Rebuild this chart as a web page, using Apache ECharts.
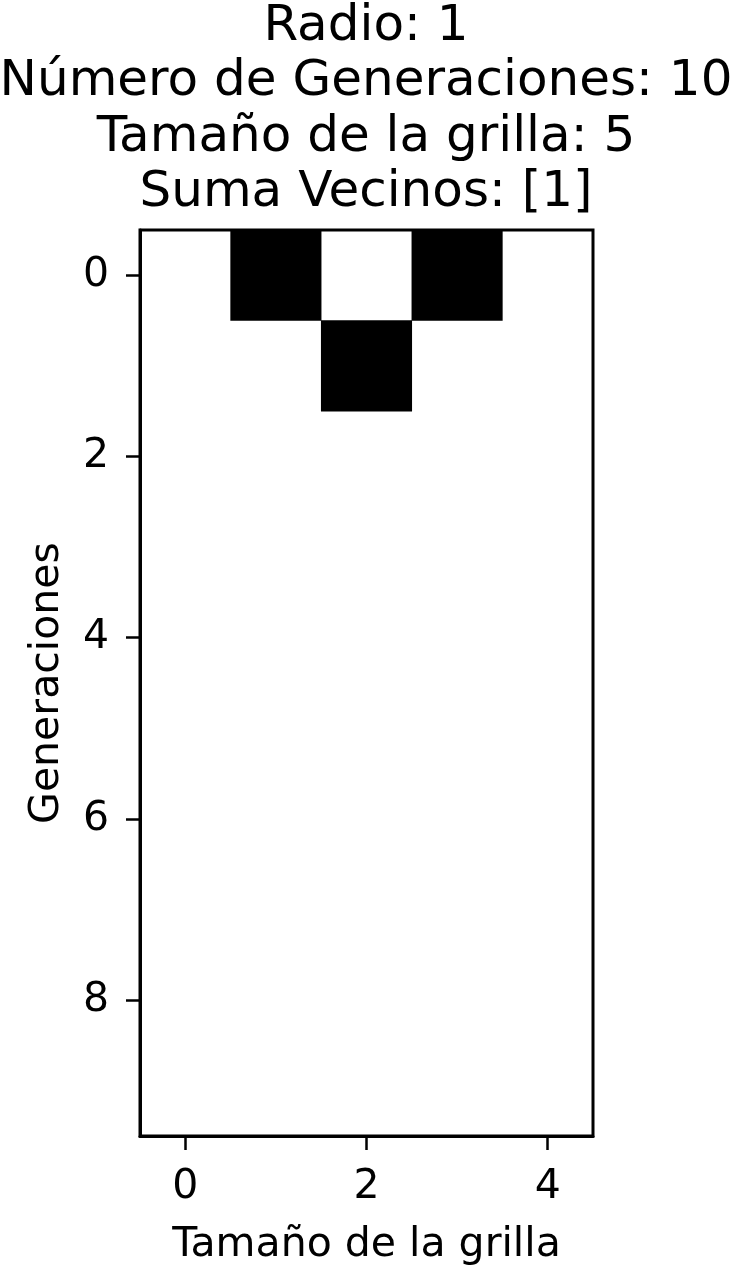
<!DOCTYPE html>
<html>
<head>
<meta charset="utf-8">
<script src="https://cdn.jsdelivr.net/npm/echarts@6/dist/echarts.min.js"></script>
<style>
html,body{margin:0;padding:0;background:#fff;}
#chart{width:732px;height:1266px;}
</style>
</head>
<body>
<div id="chart"></div>
<script>
var titleLines = ['Radio: 1', 'Número de Generaciones: 10', 'Tamaño de la grilla: 5', 'Suma Vecinos: [1]'];
var xCategories = ['0', '1', '2', '3', '4'];
var yCategories = ['0', '1', '2', '3', '4', '5', '6', '7', '8', '9'];
var row0 = [0, 1, 0, 1, 0];
var row1 = [0, 0, 1, 0, 0];
var row2 = [0, 0, 0, 0, 0];
var row3 = [0, 0, 0, 0, 0];
var row4 = [0, 0, 0, 0, 0];
var row5 = [0, 0, 0, 0, 0];
var row6 = [0, 0, 0, 0, 0];
var row7 = [0, 0, 0, 0, 0];
var row8 = [0, 0, 0, 0, 0];
var row9 = [0, 0, 0, 0, 0];
var rows = [row0, row1, row2, row3, row4, row5, row6, row7, row8, row9];

var data = [];
rows.forEach(function (r, yi) {
  r.forEach(function (v, xi) { data.push([xi, yi, v]); });
});

var font = 'DejaVu Sans';
var chart = echarts.init(document.getElementById('chart'));
chart.setOption({
  animation: false,
  backgroundColor: '#fff',
  title: {
    text: titleLines.join('\n'),
    left: 'center',
    top: -6,
    textStyle: { fontFamily: font, fontSize: 50, fontWeight: 'normal', color: '#000', lineHeight: 55.5 }
  },
  grid: { left: 140, top: 230, width: 453, height: 906, show: true, borderColor: '#000', borderWidth: 3, backgroundColor: '#fff', outerBoundsMode: 'none', containLabel: false },
  xAxis: {
    type: 'category',
    data: xCategories,
    z: 10,
    name: 'Tamaño de la grilla',
    nameLocation: 'middle',
    nameGap: 89,
    nameTextStyle: { fontFamily: font, fontSize: 41, color: '#000' },
    axisLine: { show: true, lineStyle: { color: '#000', width: 3 } },
    axisTick: { show: true, interval: 1, alignWithLabel: true, length: 14, lineStyle: { color: '#000', width: 2.5 } },
    axisLabel: { interval: 1, margin: 31, fontFamily: font, fontSize: 41, color: '#000' },
    splitLine: { show: false }
  },
  yAxis: {
    type: 'category',
    data: yCategories,
    inverse: true,
    z: 10,
    name: 'Generaciones',
    nameLocation: 'middle',
    nameGap: 72,
    nameTextStyle: { fontFamily: font, fontSize: 41, color: '#000' },
    axisLine: { show: true, lineStyle: { color: '#000', width: 3 } },
    axisTick: { show: true, interval: 1, alignWithLabel: true, length: 14, lineStyle: { color: '#000', width: 2.5 } },
    axisLabel: { interval: 1, margin: 31, fontFamily: font, fontSize: 41, color: '#000' },
    splitLine: { show: false }
  },
  visualMap: {
    show: false,
    type: 'piecewise',
    dimension: 2,
    pieces: [{ value: 0, color: 'rgba(255,255,255,0)' }, { value: 1, color: '#000000' }]
  },
  series: [{
    type: 'heatmap',
    data: data,
    itemStyle: { borderWidth: 0 },
    emphasis: { disabled: true }
  }]
});
</script>
</body>
</html>
